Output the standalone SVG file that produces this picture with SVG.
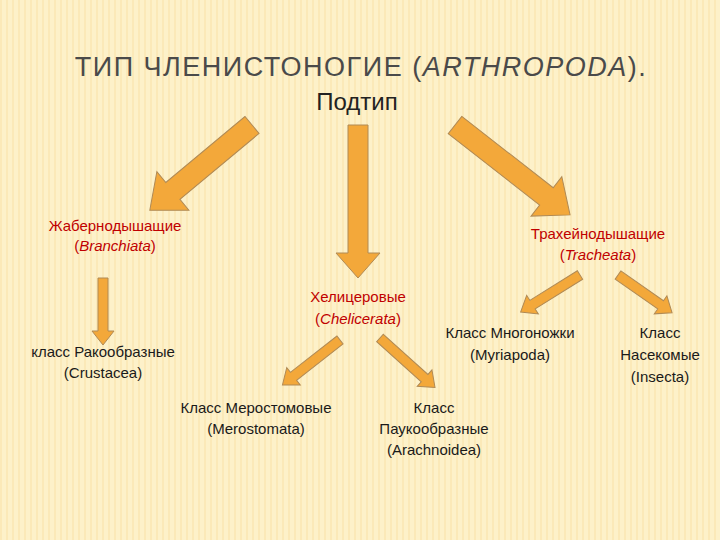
<svg xmlns="http://www.w3.org/2000/svg" width="720" height="540" viewBox="0 0 720 540">
<defs>
<pattern id="st" width="6" height="540" patternUnits="userSpaceOnUse"><rect width="6" height="540" fill="#fdf1c9"/><rect width="2" height="540" fill="#fbe9b8"/></pattern>
</defs>
<style>
.a{fill:#f3a83a;stroke:#b08a55;stroke-width:1}
.t{font-family:"Liberation Sans",Arial,sans-serif;text-anchor:middle}
.r{fill:#c00000;font-size:15px}
.k{fill:#1a1a1a;font-size:15px}
</style>
<rect width="720" height="540" fill="url(#st)"/>
<text class="t" x="361" y="76" font-size="27" fill="#4a4a4a" letter-spacing="1.5">ТИП ЧЛЕНИСТОНОГИЕ (<tspan font-style="italic">ARTHROPODA</tspan>).</text>
<text class="t" x="357" y="110" font-size="24" fill="#222">Подтип</text>
<g id="connectors">
<g transform="translate(252,125) rotate(140.2)"><polygon class="a" points="0,-11 103,-11 103,-25 133,0 103,25 103,11 0,11"/></g>
<g transform="translate(358,125) rotate(90)"><polygon class="a" points="0,-10 128,-10 128,-22 153,0 128,22 128,10 0,10"/></g>
<g transform="translate(455,125) rotate(38)"><polygon class="a" points="0,-11 116,-11 116,-25 146,0 116,25 116,11 0,11"/></g>
<g transform="translate(103,278) rotate(90)"><polygon class="a" points="0,-5 53,-5 53,-11 67,0 53,11 53,5 0,5"/></g>
<g transform="translate(340,340) rotate(142)"><polygon class="a" points="0,-5 59,-5 59,-11 73,0 59,11 59,5 0,5"/></g>
<g transform="translate(380,338) rotate(42)"><polygon class="a" points="0,-5 60,-5 60,-11 74,0 60,11 60,5 0,5"/></g>
<g transform="translate(580,275) rotate(148)"><polygon class="a" points="0,-5 56,-5 56,-11 70,0 56,11 56,5 0,5"/></g>
<g transform="translate(618,275) rotate(35)"><polygon class="a" points="0,-5 52,-5 52,-11 66,0 52,11 52,5 0,5"/></g>
</g>
<g id="branchiata" class="t r"><text x="115" y="231">Жабернодышащие</text><text x="115" y="251">(<tspan font-style="italic">Branchiata</tspan>)</text></g>
<g id="tracheata" class="t r"><text x="598" y="239">Трахейнодышащие</text><text x="598" y="260">(<tspan font-style="italic">Tracheata</tspan>)</text></g>
<g id="chelicerata" class="t r"><text x="358" y="302">Хелицеровые</text><text x="358" y="324">(<tspan font-style="italic">Chelicerata</tspan>)</text></g>
<g id="crustacea" class="t k"><text x="103" y="357">класс Ракообразные</text><text x="103" y="378">(Crustacea)</text></g>
<g id="merostomata" class="t k"><text x="256" y="413">Класс Меростомовые</text><text x="256" y="434">(Merostomata)</text></g>
<g id="arachnoidea" class="t k"><text x="434" y="413">Класс</text><text x="434" y="434">Паукообразные</text><text x="434" y="455">(Arachnoidea)</text></g>
<g id="myriapoda" class="t k"><text x="510" y="338">Класс Многоножки</text><text x="510" y="360">(Myriapoda)</text></g>
<g id="insecta" class="t k"><text x="660" y="338">Класс</text><text x="660" y="360">Насекомые</text><text x="660" y="382">(Insecta)</text></g>
</svg>
